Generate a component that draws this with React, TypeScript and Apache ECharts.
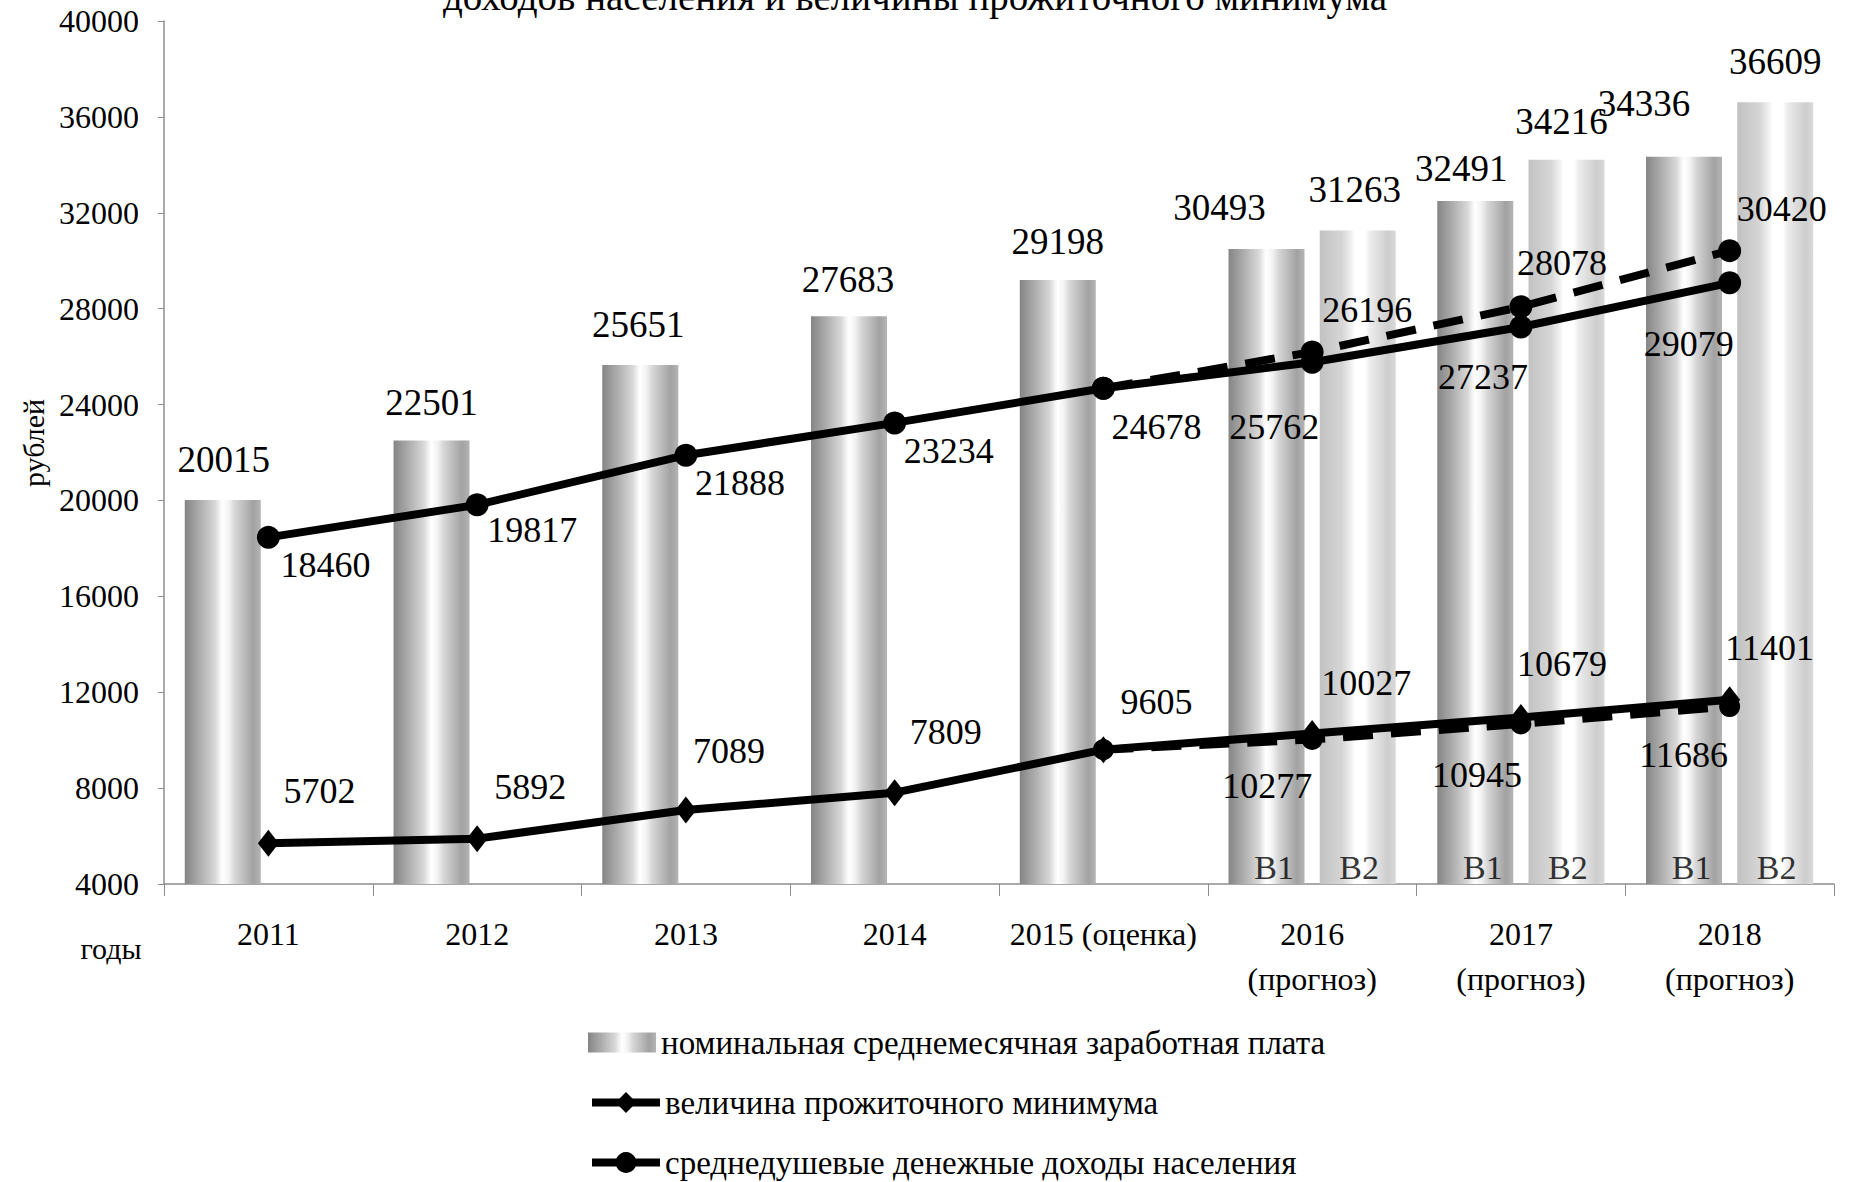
import React, { useEffect, useRef } from "react";
import * as echarts from "echarts";

// ---------- data ----------
const categories = [
  "2011",
  "2012",
  "2013",
  "2014",
  "2015 (оценка)",
  "2016\n(прогноз)",
  "2017\n(прогноз)",
  "2018\n(прогноз)",
];
// номинальная среднемесячная заработная плата (вариант 1 / вариант 2)
const wageV1 = [20015, 22501, 25651, 27683, 29198, 30493, 32491, 34336];
const wageV2 = [null, null, null, null, null, 31263, 34216, 36609];
// среднедушевые денежные доходы населения
const incomeV1 = [18460, 19817, 21888, 23234, 24678, 25762, 27237, 29079];
const incomeV2 = [null, null, null, null, 24678, 26196, 28078, 30420];
// величина прожиточного минимума
const minimumV1 = [5702, 5892, 7089, 7809, 9605, 10277, 10945, 11686];
const minimumV2 = [null, null, null, null, 9605, 10027, 10679, 11401];
// variant markers inside forecast bars
const variantCats = [5, 6, 7];
const variantNames = ["В1", "В2"];
// value axis
const yMin = 4000;
const yMax = 40000;
const yStep = 4000;

const WAGE = "номинальная среднемесячная заработная плата";
const MINIMUM = "величина прожиточного минимума";
const INCOME = "среднедушевые денежные доходы населения";
const TITLE_TAIL = "доходов населения и величины прожиточного минимума";

// ---------- label placement (px offsets) ----------
const wageV1Off = [[1, -41], [0, -38], [-2, -40], [-1, -37], [0, -38], [-47, -41], [-14, -33], [-40, -53]];
const wageV2Off = [null, null, null, null, null, [-3, -41], [-5, -38], [0, -41]];
const incomeV1Off = [[57, 28], [55, 25], [54, 28], [54, 28], [53, 39], [-38, 65], [-38, 50], [-41, 61]];
const incomeV2Off = [null, null, null, null, null, [55, -42], [41, -44], [52, -42]];
const minimumV1Off = [[51, -52], [53, -52], [43, -59], [51, -61], [53, -48], [-45, 52], [-44, 57], [-46, 55]];
const minimumV2Off = [null, null, null, null, null, [54, -57], [41, -60], [40, -59]];

const FONT = "'Liberation Serif', 'Times New Roman', serif";

function items(vals: (number | null)[], offs: (number[] | null)[]) {
  return vals.map((v, i) =>
    v == null
      ? "-"
      : offs[i]
      ? { value: v, label: { show: true, offset: offs[i] } }
      : { value: v, label: { show: false } }
  );
}

const barGradV1 = new echarts.graphic.LinearGradient(0, 0, 1, 0, [
  { offset: 0, color: "#858585" },
  { offset: 0.18, color: "#a9a9a9" },
  { offset: 0.4, color: "#d8d8d8" },
  { offset: 0.47, color: "#f6f6f6" },
  { offset: 0.5, color: "#ffffff" },
  { offset: 0.58, color: "#f2f2f2" },
  { offset: 0.66, color: "#d6d6d6" },
  { offset: 0.9, color: "#a2a2a2" },
  { offset: 1, color: "#b4b4b4" },
]);
const barGradV2 = new echarts.graphic.LinearGradient(0, 0, 1, 0, [
  { offset: 0, color: "#c2c2c2" },
  { offset: 0.3, color: "#d6d6d6" },
  { offset: 0.42, color: "#f2f2f2" },
  { offset: 0.46, color: "#ffffff" },
  { offset: 0.6, color: "#ffffff" },
  { offset: 0.66, color: "#ececec" },
  { offset: 0.9, color: "#cdcdcd" },
  { offset: 1, color: "#dadada" },
]);

export default function App() {
  const ref = useRef<HTMLDivElement>(null);
  useEffect(() => {
    document.body.style.margin = "0";
    const chart = echarts.init(ref.current!, null, { renderer: "svg" });
    const lineLabel = {
      show: true,
      position: "inside",
      fontFamily: FONT,
      fontSize: 36,
      color: "#000",
      textBorderWidth: 0,
    };
    const barLabel = {
      show: true,
      position: ["50%", 0],
      align: "center",
      verticalAlign: "middle",
      fontFamily: FONT,
      fontSize: 37,
      color: "#000",
    };
    const legendBase = {
      orient: "horizontal",
      left: 588,
      padding: 0,
      itemWidth: 68,
      itemHeight: 26,
      selectedMode: false,
      lineStyle: { width: 8, color: "#000" },
      textStyle: { fontFamily: FONT, fontSize: 33, color: "#000" },
    };
    const option: any = {
      animation: false,
      backgroundColor: "#fff",
      textStyle: { fontFamily: FONT },
      grid: { left: 164, top: 21, right: 17, bottom: 298, containLabel: false },
      legend: [
        { ...legendBase, top: 1026, itemHeight: 20, data: [{ name: WAGE, icon: "rect" }] },
        { ...legendBase, top: 1086, data: [{ name: MINIMUM }] },
        { ...legendBase, top: 1146, data: [{ name: INCOME }] },
      ],
      xAxis: {
        type: "category",
        data: categories,
        axisLine: { lineStyle: { color: "#8c8c8c", width: 1.5 } },
        axisTick: { show: true, interval: 0, length: 12, lineStyle: { color: "#8c8c8c" } },
        axisLabel: {
          interval: 0,
          margin: 27,
          fontFamily: FONT,
          fontSize: 32,
          lineHeight: 45,
          color: "#000",
        },
        splitLine: { show: false },
      },
      yAxis: {
        type: "value",
        min: yMin,
        max: yMax,
        interval: yStep,
        axisLine: { show: true, lineStyle: { color: "#8c8c8c", width: 1.5 } },
        axisTick: { show: true, length: 6, lineStyle: { color: "#8c8c8c" } },
        axisLabel: {
          margin: 25,
          fontFamily: FONT,
          fontSize: 32,
          color: "#000",
          formatter: (v: number) => String(v),
        },
        splitLine: { show: false },
      },
      graphic: [
        {
          type: "text",
          x: 915,
          y: 16,
          style: {
            text: TITLE_TAIL,
            fontFamily: FONT,
            fontSize: 39,
            fill: "#000",
            align: "center",
            verticalAlign: "bottom",
          },
        },
        {
          type: "text",
          x: 33,
          y: 443,
          rotation: Math.PI / 2,
          style: {
            text: "рублей",
            fontFamily: FONT,
            fontSize: 30,
            fill: "#000",
            align: "center",
            verticalAlign: "middle",
          },
        },
        {
          type: "text",
          x: 111,
          y: 948,
          style: {
            text: "годы",
            fontFamily: FONT,
            fontSize: 30,
            fill: "#000",
            align: "center",
            verticalAlign: "middle",
          },
        },
      ],
      series: [
        {
          type: "bar",
          name: WAGE,
          data: items(wageV1, wageV1Off),
          barWidth: 76,
          barGap: "20%",
          itemStyle: { color: barGradV1 },
          label: barLabel,
          z: 2,
        },
        {
          type: "bar",
          name: WAGE,
          data: items(wageV2, wageV2Off),
          barWidth: 76,
          barGap: "20%",
          itemStyle: { color: barGradV2 },
          label: barLabel,
          z: 2,
        },
        {
          type: "line",
          name: MINIMUM,
          data: items(minimumV1, minimumV1Off),
          symbol: "diamond",
          symbolSize: [21, 27],
          showAllSymbol: true,
          lineStyle: { color: "#000", width: 8 },
          itemStyle: { color: "#000" },
          label: lineLabel,
          z: 5,
        },
        {
          type: "line",
          name: MINIMUM,
          data: items(minimumV2, minimumV2Off),
          symbol: "circle",
          symbolSize: 21,
          showAllSymbol: true,
          lineStyle: { color: "#000", width: 8, type: [30, 18] },
          itemStyle: { color: "#000" },
          label: lineLabel,
          z: 4,
        },
        {
          type: "line",
          name: INCOME,
          data: items(incomeV1, incomeV1Off),
          symbol: "circle",
          symbolSize: 23,
          showAllSymbol: true,
          lineStyle: { color: "#000", width: 8 },
          itemStyle: { color: "#000" },
          label: lineLabel,
          z: 5,
        },
        {
          type: "line",
          name: INCOME,
          data: items(incomeV2, incomeV2Off),
          symbol: "circle",
          symbolSize: 23,
          showAllSymbol: true,
          lineStyle: { color: "#000", width: 8, type: [30, 18] },
          itemStyle: { color: "#000" },
          label: lineLabel,
          z: 4,
        },
        {
          type: "scatter",
          name: "variant1",
          data: variantCats.map((c) => [c, yMin]),
          symbolSize: 0,
          label: {
            show: true,
            formatter: variantNames[0],
            position: "inside",
            offset: [-38, -17],
            fontFamily: FONT,
            fontSize: 34,
            color: "#000",
          },
          z: 6,
        },
        {
          type: "scatter",
          name: "variant2",
          data: variantCats.map((c) => [c, yMin]),
          symbolSize: 0,
          label: {
            show: true,
            formatter: variantNames[1],
            position: "inside",
            offset: [47, -17],
            fontFamily: FONT,
            fontSize: 34,
            color: "#000",
          },
          z: 6,
        },
      ],
    };
    chart.setOption(option);
    return () => chart.dispose();
  }, []);
  return <div ref={ref} style={{ width: 1851, height: 1182 }} />;
}
